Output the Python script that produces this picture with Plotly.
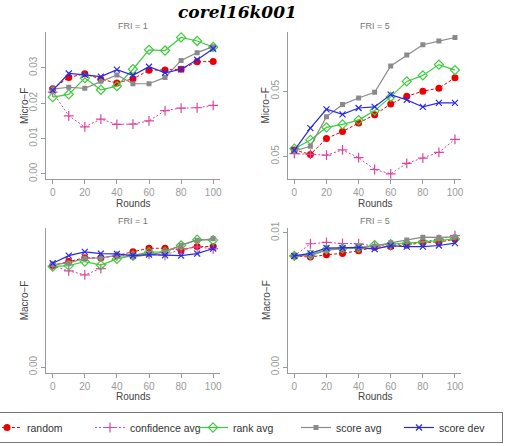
import plotly.graph_objects as go

rounds = [0, 10, 20, 30, 40, 50, 60, 70, 80, 90, 100]
methods = ["random", "confidence avg", "rank avg", "score avg", "score dev"]

# Micro-F, FRI = 1
micro_fri1 = {
    "random":         [0.0241, 0.0273, 0.0283, 0.0268, 0.0257, 0.0269, 0.0293, 0.0294, 0.0296, 0.0317, 0.0318],
    "confidence avg": [0.0231, 0.0164, 0.0133, 0.0155, 0.0140, 0.0141, 0.0150, 0.0179, 0.0186, 0.0187, 0.0194],
    "rank avg":       [0.0217, 0.0225, 0.0271, 0.0238, 0.0248, 0.0296, 0.0351, 0.0349, 0.0386, 0.0376, 0.0359],
    "score avg":      [0.0240, 0.0245, 0.0242, 0.0262, 0.0280, 0.0255, 0.0255, 0.0273, 0.0321, 0.0343, 0.0360],
    "score dev":      [0.0236, 0.0284, 0.0280, 0.0275, 0.0295, 0.0279, 0.0303, 0.0286, 0.0296, 0.0323, 0.0354],
}
# Micro-F, FRI = 5
micro_fri5 = {
    "random":         [0.05049, 0.05015, 0.05137, 0.05191, 0.05255, 0.05320, 0.05402, 0.05461, 0.05500, 0.05523, 0.05603],
    "confidence avg": [0.05021, 0.05015, 0.05010, 0.05049, 0.04990, 0.04899, 0.04866, 0.04946, 0.04987, 0.05031, 0.05131],
    "rank avg":       [0.05059, 0.05126, 0.05222, 0.05245, 0.05278, 0.05351, 0.05456, 0.05575, 0.05621, 0.05704, 0.05662],
    "score avg":      [0.05041, 0.05077, 0.05304, 0.05397, 0.05448, 0.05492, 0.05693, 0.05778, 0.05856, 0.05884, 0.05912],
    "score dev":      [0.05046, 0.05216, 0.05361, 0.05322, 0.05371, 0.05379, 0.05474, 0.05433, 0.05379, 0.05410, 0.05410],
}
# Macro-F, FRI = 1
macro_fri1 = {
    "random":         [0.00727, 0.00755, 0.00782, 0.00780, 0.00797, 0.00825, 0.00850, 0.00850, 0.00836, 0.00862, 0.00862],
    "confidence avg": [0.00722, 0.00688, 0.00660, 0.00705, 0.00795, 0.00797, 0.00806, 0.00800, 0.00845, 0.00860, 0.00845],
    "rank avg":       [0.00718, 0.00726, 0.00755, 0.00730, 0.00774, 0.00798, 0.00822, 0.00824, 0.00871, 0.00911, 0.00908],
    "score avg":      [0.00733, 0.00745, 0.00778, 0.00781, 0.00800, 0.00788, 0.00805, 0.00824, 0.00872, 0.00907, 0.00918],
    "score dev":      [0.00743, 0.00797, 0.00824, 0.00812, 0.00810, 0.00798, 0.00805, 0.00800, 0.00797, 0.00812, 0.00848],
}
# Macro-F, FRI = 5
macro_fri5 = {
    "random":         [0.00828, 0.00820, 0.00837, 0.00847, 0.00867, 0.00892, 0.00899, 0.00909, 0.00929, 0.00931, 0.00953],
    "confidence avg": [0.00828, 0.00919, 0.00929, 0.00921, 0.00919, 0.00901, 0.00906, 0.00919, 0.00936, 0.00951, 0.00980],
    "rank avg":       [0.00828, 0.00837, 0.00877, 0.00884, 0.00889, 0.00909, 0.00916, 0.00921, 0.00931, 0.00943, 0.00956],
    "score avg":      [0.00828, 0.00833, 0.00869, 0.00884, 0.00889, 0.00901, 0.00926, 0.00946, 0.00968, 0.00966, 0.00970],
    "score dev":      [0.00828, 0.00847, 0.00887, 0.00887, 0.00892, 0.00879, 0.00904, 0.00897, 0.00897, 0.00906, 0.00924],
}

styles = {
    "random":         dict(color="#EE0000", dash="3px,2px", symbol="circle", size=7, lw=1),
    "confidence avg": dict(color="#D9459F", dash="2px,2px", symbol="cross-thin-open", size=7, lw=1),
    "rank avg":       dict(color="#3ECC3E", dash="solid", symbol="diamond-open", size=7, lw=1.2),
    "score avg":      dict(color="#8A8A8A", dash="solid", symbol="square", size=5, lw=1.2),
    "score dev":      dict(color="#2A2AE6", dash="solid", symbol="x-thin-open", size=6, lw=1.2),
}

W, H = 531, 446
MB = 40           # bottom margin (legend sits below the plotting paper)
HP = H - MB       # paper height in px
fig = go.Figure()

panels = [
    ("x", "y", micro_fri1, "FRI = 1", "Micro−F"),
    ("x2", "y2", micro_fri5, "FRI = 5", "Micro−F"),
    ("x3", "y3", macro_fri1, "FRI = 1", "Macro−F"),
    ("x4", "y4", macro_fri5, "FRI = 5", "Macro−F"),
]

for i, (xa, ya, data, ttl, ylab) in enumerate(panels):
    for m in methods:
        s = styles[m]
        mk = dict(symbol=s["symbol"], size=s["size"], color=s["color"])
        if "open" in s["symbol"]:
            mk["line"] = dict(color=s["color"], width=1.2)
        fig.add_trace(go.Scatter(
            x=rounds, y=data[m], xaxis=xa, yaxis=ya, name=m,
            mode="lines+markers", showlegend=(i == 0), legendgroup=m,
            line=dict(color=s["color"], dash=s["dash"], width=s["lw"]),
            marker=mk))

def px_dom_x(a, b):
    return [a / W, b / W]

def px_dom_y(top, bottom):
    return [(HP - bottom) / HP, (HP - top) / HP]

xl = px_dom_x(46.3, 219.6)
xr = px_dom_x(287.9, 461.4)
yt = px_dom_y(32, 179.3)
yb = px_dom_y(227.5, 372.5)

axis_common = dict(showline=True, linecolor="#9a9a9a", linewidth=1, ticks="outside",
                   ticklen=4, tickcolor="#9a9a9a", showgrid=False, zeroline=False,
                   tickfont=dict(family="Liberation Sans, Arial", size=10, color="#9a9a9a"),
                   mirror=False, automargin=False)

xcommon = dict(axis_common, range=[-4, 104], tickvals=[0, 20, 40, 60, 80, 100])

fig.update_layout(
    xaxis=dict(xcommon, domain=xl, anchor="y"),
    xaxis2=dict(xcommon, domain=xr, anchor="y2"),
    xaxis3=dict(xcommon, domain=xl, anchor="y3"),
    xaxis4=dict(xcommon, domain=xr, anchor="y4"),
    yaxis=dict(axis_common, domain=yt, anchor="x", range=[-0.00154, 0.04014],
               tickvals=[0, 0.01, 0.02, 0.03], ticktext=["0.00", "0.01", "0.02", "0.03"], tickangle=-90),
    yaxis2=dict(axis_common, domain=yt, anchor="x2", range=[0.04824, 0.05954],
                tickvals=[0.050, 0.055], ticktext=["0.05", "0.05"], tickangle=-90),
    yaxis3=dict(axis_common, domain=yb, anchor="x3", range=[-0.000384, 0.009984],
                tickvals=[0], ticktext=["0.00"], tickangle=-90),
    yaxis4=dict(axis_common, domain=yb, anchor="x4", range=[-0.0004, 0.0104],
                tickvals=[0, 0.01], ticktext=["0.00", "0.01"], tickangle=-90),
)

ann = []
for xa, ya, data, ttl, ylab in panels:
    xs = xa + " domain"
    ys = ya + " domain"
    ann.append(dict(text=ttl, xref=xs, yref=ys, x=0.5, y=1, yanchor="bottom", yshift=-1,
                    showarrow=False, font=dict(family="Liberation Sans, Arial", size=9, color="#777777")))
    ann.append(dict(text="Rounds", xref=xs, yref=ys, x=0.5, y=0, yanchor="middle", yshift=-24,
                    showarrow=False, font=dict(family="Liberation Sans, Arial", size=10, color="#444444")))
    ann.append(dict(text=ylab, xref=xs, yref=ys, x=0, y=0.5, xanchor="center", xshift=-22,
                    textangle=-90, showarrow=False,
                    font=dict(family="Liberation Sans, Arial", size=10, color="#444444")))

ann.append(dict(text="corel16k001", xref="paper", yref="paper", x=237.5 / W, y=(HP - 12) / HP,
                xanchor="center", yanchor="middle", showarrow=False,
                font=dict(family="DejaVu Serif", size=17, color="black", weight="bold", style="italic")))

fig.update_layout(
    annotations=ann,
    width=W, height=H,
    margin=dict(l=0, r=0, t=0, b=MB, autoexpand=False),
    paper_bgcolor="white", plot_bgcolor="white",
    legend=dict(orientation="h", x=-13 / W, y=(HP - 412) / HP, xanchor="left", yanchor="top",
                entrywidth=58, entrywidthmode="pixels",
                bordercolor="#777777", borderwidth=1, bgcolor="white",
                font=dict(family="Liberation Sans, Arial", size=10.5, color="#333333"),
                tracegroupgap=0, itemwidth=30),
)

fig.write_html("out.html")
